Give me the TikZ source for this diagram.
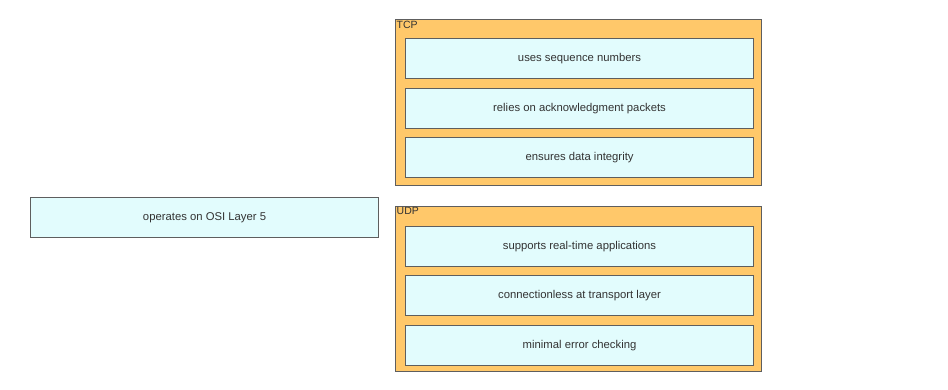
\documentclass[tikz,border=0pt]{standalone}
\usepackage{fontspec}
\setmainfont{Liberation Sans}
\usepackage{xcolor}
\usetikzlibrary{positioning}

\definecolor{groupfill}{HTML}{FFC86A}
\definecolor{itemfill}{HTML}{E2FCFD}
\definecolor{boxline}{HTML}{5E5E5E}
\definecolor{itemtext}{HTML}{333333}

\tikzset{
    groupbox/.style={draw=boxline, line width=0.9pt, fill=groupfill, rectangle,
        anchor=north west, inner sep=0pt, minimum width=366pt},
    grouplabel/.style={anchor=north west, inner sep=1.5pt, font=\fontsize{10.5}{12}\selectfont, text=itemtext},
    itembox/.style={draw=boxline, line width=1.1pt, fill=itemfill, rectangle,
        anchor=north west, inner sep=0pt, minimum width=348pt, minimum height=40pt,
        font=\fontsize{11.3}{13}\selectfont, text=itemtext}
}

\begin{document}
\begin{tikzpicture}[x=1pt, y=-1pt]
    \useasboundingbox (0,0) rectangle (948,390);

    % =========================================================
    % LEFT ITEM
    % =========================================================
    \node[itembox, minimum width=348pt] (layer5) at (30,197) {operates on OSI Layer 5};

    % =========================================================
    % TCP GROUP
    % =========================================================
    \node[groupbox, minimum height=166pt] (tcp) at (395,19) {};
    \node[grouplabel] (tcplabel) at (tcp.north west) {TCP};
    \node[itembox] (seqnum) at (405,38) {uses sequence numbers};
    \node[itembox] (ackpkt) at (405,88) {relies on acknowledgment packets};
    \node[itembox] (integrity) at (405,137) {ensures data integrity};

    % =========================================================
    % UDP GROUP
    % =========================================================
    \node[groupbox, minimum height=165pt] (udp) at (395,206) {};
    \node[grouplabel] (udplabel) at (udp.north west) {UDP};
    \node[itembox] (realtime) at (405,226) {supports real-time applications};
    \node[itembox] (connless) at (405,275) {connectionless at transport layer};
    \node[itembox] (minerror) at (405,325) {minimal error checking};
\end{tikzpicture}
\end{document}
